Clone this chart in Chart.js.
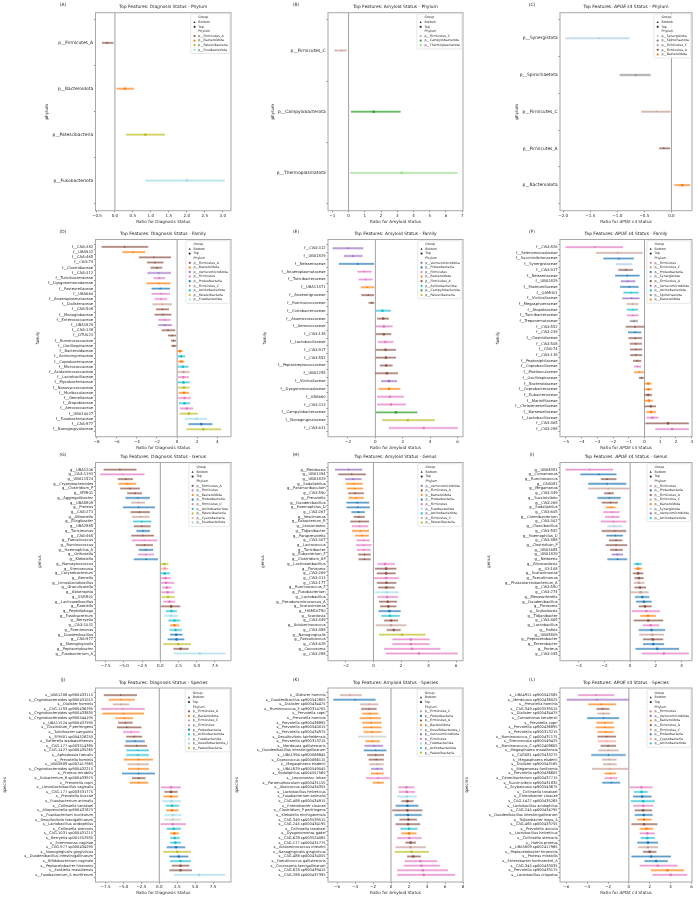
<!DOCTYPE html>
<html>
<head>
<meta charset="utf-8">
<script src="https://cdn.jsdelivr.net/npm/chart.js@4.4.0/dist/chart.umd.min.js"></script>
<style>
  body { margin: 0; background: #fff; }
  #fig { position: relative; width: 698px; height: 900px; overflow: hidden; background: #fff; }
  .panel { position: absolute; }
</style>
</head>
<body>
<div id="fig"></div>
<script>
// phylum code -> [legend name, colour]
const PHYLA = {
  FA: ['p__Firmicutes_A', '#8c564b'],
  Ba: ['p__Bacteroidota', '#ff7f0e'],
  Ve: ['p__Verrucomicrobiota', '#9467bd'],
  Fi: ['p__Firmicutes', '#e377c2'],
  Pr: ['p__Proteobacteria', '#1f77b4'],
  FC: ['p__Firmicutes_C', '#c49c94'],
  Ac: ['p__Actinobacteriota', '#17becf'],
  Pa: ['p__Patescibacteria', '#bcbd22'],
  Fu: ['p__Fusobacteriota', '#9edae5'],
  Ca: ['p__Campylobacterota', '#2ca02c'],
  Th: ['p__Thermoplasmatota', '#98df8a'],
  Sy: ['p__Synergistota', '#aec7e8'],
  Sp: ['p__Spirochaetota', '#7f7f7f'],
  Cy: ['p__Cyanobacteria', '#ff9896'],
  De: ['p__Desulfobacterota_I', '#c7c7c7']
};

// ---------- (A) Diagnosis - Phylum ----------
const aFeatures = ['p__Firmicutes_A', 'p__Bacteroidota', 'p__Patescibacteria', 'p__Fusobacteriota'];
const aRatio = [-0.22, 0.28, 0.85, 2.0];
const aLow = [-0.35, 0.05, 0.32, 0.85];
const aHigh = [-0.05, 0.52, 1.38, 3.05];
const aPhylum = ['FA', 'Ba', 'Pa', 'Fu'];
const aTicks = [-0.5, 0, 0.5, 1, 1.5, 2, 2.5, 3];

// ---------- (B) Amyloid - Phylum ----------
const bFeatures = ['p__Firmicutes_C', 'p__Campylobacterota', 'p__Thermoplasmatota'];
const bRatio = [-0.45, 1.55, 3.27];
const bLow = [-0.86, 0.16, 0.12];
const bHigh = [-0.14, 3.18, 6.69];
const bPhylum = ['FC', 'Ca', 'Th'];
const bTicks = [-1, 0, 1, 2, 3, 4, 5, 6, 7];

// ---------- (C) APOE e4 - Phylum ----------
const cFeatures = ['p__Synergistota', 'p__Spirochaetota', 'p__Firmicutes_C', 'p__Firmicutes_A', 'p__Bacteroidota'];
const cRatio = [-1.34, -0.66, -0.28, -0.14, 0.2];
const cLow = [-1.95, -0.95, -0.55, -0.22, 0.06];
const cHigh = [-0.78, -0.39, -0.02, -0.03, 0.34];
const cPhylum = ['Sy', 'Sp', 'FC', 'FA', 'Ba'];
const cTicks = [-2, -1.5, -1, -0.5, 0];

// ---------- (D) Diagnosis - Family ----------
const dFeatures = ['f__CAG-382', 'f__UBA932', 'f__CAG-465', 'f__CAG-74', 'f__Clostridiaceae', 'f__CAG-312',
  'f__Turicibacteraceae', 'f__Dysgonomonadaceae', 'f__Pasteurellaceae', 'f__UBA660', 'f__Anaeroplasmataceae',
  'f__Dialisteraceae', 'f__CAG-508', 'f__Monoglobaceae', 'f__Enterococcaceae', 'f__UBA1829', 'f__CAG-138',
  'f__DTU023', 'f__Ruminococcaceae', 'f__Oscillospiraceae', 'f__Bacteroidaceae', 'f__Actinomycetaceae',
  'f__Coprobacteraceae', 'f__Micrococcaceae', 'f__Acidaminococcaceae', 'f__Lactobacillaceae',
  'f__Mycobacteriaceae', 'f__Nanosyncoccaceae', 'f__Muribaculaceae', 'f__Gemellaceae', 'f__Atopobiaceae',
  'f__Aerococcaceae', 'f__UBA10027', 'f__Fusobacteriaceae', 'f__CAG-977', 'f__Nanogingivalaceae'];
const dRatio = [-5.2, -4.4, -2.3, -2.2, -2.0, -1.83, -1.77, -1.83, -1.67, -1.6, -1.6, -1.48, -1.45, -1.4, -1.25,
  -1.22, -0.9, -0.5, -0.35, -0.32, 0.29, 0.39, 0.42, 0.58, 0.64, 0.61, 0.64, 0.68, 0.68, 0.74, 0.74, 0.96, 1.16,
  1.93, 2.4, 2.6];
const dLow = [-7.46, -5.4, -3.76, -2.96, -2.6, -2.9, -2.3, -3.0, -2.5, -2.5, -2.2, -2.4, -2.06, -2.2, -1.83, -1.83,
  -1.5, -0.87, -0.58, -0.55, 0.06, 0.1, 0.13, 0.1, 0.06, 0.13, 0.1, 0.13, 0.19, 0.13, 0.22, 0.32, 0.29, 0.8, 1.16,
  0.96];
const dHigh = [-2.9, -3.2, -0.64, -1.4, -1.5, -0.64, -1.2, -0.68, -0.74, -0.77, -1.0, -0.55, -0.84, -0.6, -0.68,
  -0.55, -0.22, -0.13, -0.13, -0.1, 0.5, 0.77, 0.68, 1.1, 1.22, 1.13, 1.22, 1.22, 1.16, 1.35, 1.25, 1.54, 2.0, 2.93,
  3.47, 4.34];
const dPhylum = ['FA', 'Ba', 'FA', 'FA', 'FA', 'Ve', 'Fi', 'Ba', 'Pr', 'Fi', 'Fi', 'FC', 'FA', 'FA', 'Fi', 'Ve',
  'FA', 'FA', 'FA', 'FA', 'Ba', 'Ac', 'Ba', 'Ac', 'FC', 'Fi', 'Ac', 'Pa', 'Ba', 'Fi', 'Ac', 'Fi', 'Pa', 'Fu', 'Pr',
  'Pa'];
const dTicks = [-8, -6, -4, -2, 0, 2, 4];

// ---------- (E) Amyloid - Family ----------
const eFeatures = ['f__CAG-312', 'f__UBA1829', 'f__Neisseriaceae', 'f__Anaeroplasmataceae', 'f__Turicibacteraceae',
  'f__UBA11471', 'f__Anaerotignaceae', 'f__Ruminococcaceae', 'f__Coriobacteriaceae', 'f__Anaerovoracaceae',
  'f__Aerococcaceae', 'f__CAG-138', 'f__Lactobacillaceae', 'f__CAG-917', 'f__CAG-552', 'f__Peptostreptococcaceae',
  'f__UBA1255', 'f__Victivallaceae', 'f__Dysgonomonadaceae', 'f__UBA660', 'f__CAG-313', 'f__Campylobacteraceae',
  'f__Nanogingivalaceae', 'f__CAG-631'];
const eRatio = [-2.0, -1.65, -1.28, -0.84, -0.72, -0.6, -0.52, -0.25, 0.52, 0.57, 0.62, 0.62, 0.72, 0.74, 0.77,
  0.79, 0.84, 0.99, 1.01, 1.06, 1.14, 1.5, 2.37, 3.53];
const eLow = [-3.1, -2.27, -2.64, -1.28, -1.2, -1.04, -1.0, -0.47, 0.07, 0.15, 0.02, 0.07, 0.2, 0.05, 0.05, 0.35,
  0.02, 0.44, 0.25, 0.15, 0.15, 0.07, 0.52, 1.01];
const eHigh = [-0.9, -0.96, -0.12, -0.3, -0.22, -0.1, -0.12, -0.1, 1.1, 0.96, 1.23, 1.13, 1.3, 1.48, 1.48, 1.23,
  1.63, 1.56, 1.8, 2.05, 2.2, 3.04, 4.32, 6.0];
const ePhylum = ['Ve', 'Ve', 'Pr', 'Fi', 'Fi', 'Ba', 'FA', 'FA', 'Ac', 'FA', 'Fi', 'FA', 'Fi', 'FA', 'FA', 'FA',
  'FA', 'Ve', 'Ba', 'Fi', 'Fi', 'Ca', 'Pa', 'Fi'];
const eTicks = [-2, 0, 2, 4, 6];

// ---------- (F) APOE e4 - Family ----------
const fFeatures = ['f__CAG-826', 'f__Selenomonadaceae', 'f__Succinivibrionaceae', 'f__Synergistaceae', 'f__CAG-917',
  'f__Neisseriaceae', 'f__UBA1829', 'f__Pasteurellaceae', 'f__QAMH01', 'f__Victivallaceae', 'f__Megasphaeraceae',
  'f__Atopobiaceae', 'f__Turicibacteraceae', 'f__Treponemataceae', 'f__CAG-552', 'f__CAG-239', 'f__Clostridiaceae',
  'f__CAG-508', 'f__CAG-74', 'f__CAG-138', 'f__Peptoniphilaceae', 'f__Coprobacillaceae', 'f__Muribaculaceae',
  'f__Oscillospiraceae', 'f__Bacteroidaceae', 'f__Coprobacteraceae', 'f__Eubacteriaceae', 'f__Marinifilaceae',
  'f__Christensenellaceae', 'f__Barnesiellaceae', 'f__Lactobacillaceae', 'f__CAG-465', 'f__CAG-288'];
const fRatio = [-3.17, -1.7, -1.64, -1.28, -1.18, -1.11, -1.07, -0.97, -0.86, -0.82, -0.76, -0.74, -0.74, -0.67,
  -0.61, -0.61, -0.59, -0.57, -0.55, -0.55, -0.48, -0.44, -0.34, -0.19, 0.23, 0.25, 0.23, 0.27, 0.4, 0.42, 0.5, 1.49,
  1.76];
const fLow = [-5.0, -3.07, -2.6, -1.8, -1.64, -1.85, -1.49, -1.53, -1.32, -1.39, -1.13, -1.11, -1.11, -0.92, -1.18,
  -1.03, -1.0, -0.92, -0.9, -0.9, -0.71, -0.65, -0.65, -0.34, 0.04, 0.04, 0.02, 0.02, 0.0, 0.13, 0.15, 0.08, 0.71];
const fHigh = [-1.39, -0.13, -0.71, -0.8, -0.76, -0.34, -0.61, -0.4, -0.4, -0.34, -0.4, -0.44, -0.4, -0.44, -0.02,
  -0.23, -0.17, -0.19, -0.17, -0.17, -0.23, -0.23, -0.06, -0.06, 0.42, 0.46, 0.46, 0.5, 0.71, 0.71, 0.86, 2.8, 2.8];
const fPhylum = ['Fi', 'FC', 'Pr', 'Sy', 'FA', 'Pr', 'Ve', 'Pr', 'Ac', 'Ve', 'FC', 'Ac', 'Fi', 'Sp', 'FA', 'Pr',
  'FA', 'FA', 'FA', 'FA', 'FA', 'Fi', 'Ba', 'FA', 'Ba', 'Ba', 'FA', 'Ba', 'FA', 'Ba', 'Fi', 'FA', 'Fi'];
const fTicks = [-5, -4, -3, -2, -1, 0, 1, 2, 3];

// ---------- (G) Diagnosis - Genus ----------
const gFeatures = ['g__UBA1206', 'g__CAG-1193', 'g__UBA11524', 'g__Cryptobacteroides', 'g__Clostridium_P',
  'g__SFMI01', 'g__Aggregatibacter', 'g__UBA5809', 'g__Proteus', 'g__CAG-273', 'g__Allisonella', 'g__Ellagibacter',
  'g__UBA2885', 'g__Turicimonas', 'g__CAG-465', 'g__Faecalicoccus', 'g__Ruminococcus', 'g__Haemophilus_A',
  'g__Orthosella', 'g__Klebsiella', 'g__Nanosynococcus', 'g__Stercorousia', 'g__Corynebacterium', 'g__Gemella',
  'g__Limosilactobacillus', 'g__Granulicatella', 'g__Abiotrophia', 'g__SDRR01', 'g__Lacticaseibacillus',
  'g__Ezakiella', 'g__Peptidiphaga', 'g__Fusobacterium', 'g__Berryella', 'g__CAG-1031', 'g__Formimonas',
  'g__Duodenibacillus', 'g__CAG-977', 'g__Nanogingivalis', 'g__Peptacetobacter', 'g__Fusobacterium_A'];
const gRatio = [-5.55, -5.19, -4.72, -4.54, -4.17, -3.47, -3.1, -3.0, -3.0, -2.87, -2.69, -2.55, -2.55, -2.4, -2.4,
  -2.22, -2.18, -1.99, -1.99, -1.94, 0.56, 0.6, 0.6, 0.69, 0.79, 0.88, 1.0, 1.06, 1.25, 1.48, 1.53, 1.48, 1.94,
  1.94, 2.08, 2.18, 2.22, 2.45, 2.78, 5.42];
const gLow = [-7.73, -8.2, -5.8, -5.7, -5.46, -4.5, -4.72, -3.94, -5.09, -4.03, -3.84, -3.7, -3.6, -3.24, -3.94,
  -3.84, -3.33, -2.92, -3.0, -3.6, 0.09, 0.14, 0.09, 0.14, 0.14, 0.32, 0.19, 0.23, 0.46, 0.14, 0.79, 0.6, 1.16,
  1.39, 1.3, 1.39, 1.06, 0.46, 1.85, 1.94];
const gHigh = [-3.33, -2.22, -3.8, -3.38, -2.87, -2.55, -1.48, -2.18, -0.79, -1.48, -1.53, -1.3, -1.39, -1.48,
  -0.93, -0.46, -1.06, -1.02, -0.93, -0.37, 1.06, 1.0, 1.3, 1.39, 1.85, 1.48, 1.85, 1.94, 1.99, 2.69, 2.22, 2.4,
  2.69, 2.55, 2.92, 3.0, 3.24, 4.17, 3.84, 8.89];
const gPhylum = ['FA', 'Fi', 'FA', 'Ba', 'FA', 'FA', 'Pr', 'FC', 'Pr', 'FA', 'FC', 'Ac', 'FA', 'Pr', 'FA', 'Fi',
  'FA', 'Pr', 'Fi', 'Pr', 'Pa', 'Cy', 'Ac', 'Fi', 'Fi', 'Fi', 'Fi', 'Pa', 'Fi', 'FA', 'Ac', 'Fu', 'Ac', 'Ba', 'Ac',
  'Pr', 'Pr', 'Pa', 'FA', 'Fu'];
const gTicks = [-7.5, -5, -2.5, 0, 2.5, 5, 7.5];

// ---------- (H) Amyloid - Genus ----------
const hFeatures = ['g__Merdousia', 'g__UBA1394', 'g__UBA1829', 'g__Sodaliphilus', 'g__Paramuribaculum', 'g__CAG-590',
  'g__Prevotella', 'g__Duodenibacillus', 'g__Haemophilus_D', 'g__CAG-267', 'g__Vescimonas', 'g__Eubacterium_R',
  'g__Leuconostoc', 'g__Tidjanibacter', 'g__Paraprevotella', 'g__CAG-307', 'g__Lactococcus', 'g__Turicibacter',
  'g__Eubacterium_F', 'g__Clostridium_AP', 'g__Lacticaseibacillus', 'g__Fimisoma', 'g__CAG-269', 'g__CAG-313',
  'g__CAG-177', 'g__Ruminococcus_F', 'g__Fusobacterium', 'g__Lactobacillus', 'g__Pseudoruminococcus_A',
  'g__Scatavimonas', 'g__HGM16780', 'g__Scardovia', 'g__CAG-449', 'g__Acidaminococcus', 'g__CAG-488',
  'g__Nanogingivalis', 'g__Faecalicoccus', 'g__CAG-628', 'g__Coccosoma', 'g__CAG-288'];
const hRatio = [-1.8, -1.57, -1.49, -1.42, -1.37, -1.33, -1.25, -1.18, -1.13, -1.08, -1.06, -1.01, -1.01, -0.94,
  -0.84, -0.72, -0.7, -0.7, -0.65, -0.65, 0.84, 0.92, 0.92, 0.92, 0.94, 0.94, 0.96, 0.99, 1.04, 1.08, 1.16, 1.2,
  1.28, 1.28, 1.47, 2.07, 2.72, 2.72, 2.8, 3.3];
const hLow = [-2.77, -2.53, -2.02, -1.98, -1.9, -1.81, -1.78, -1.93, -1.93, -1.57, -1.42, -1.66, -1.54, -1.54, -1.3,
  -1.2, -1.25, -1.18, -1.08, -1.06, 0.31, 0.14, 0.27, 0.07, 0.27, 0.36, 0.14, 0.31, 0.43, 0.51, 0.39, 0.6, 0.8,
  0.19, 0.99, 0.43, 1.4, 1.4, 0.8, 0.92];
const hHigh = [-0.84, -0.58, -0.89, -0.82, -0.77, -0.72, -0.72, -0.34, -0.29, -0.65, -0.65, -0.34, -0.41, -0.34,
  -0.36, -0.29, -0.17, -0.22, -0.22, -0.22, 1.52, 1.64, 1.59, 1.81, 1.64, 1.52, 1.81, 1.76, 1.69, 1.64, 1.95, 1.88,
  1.76, 2.36, 1.95, 3.76, 4.05, 4.05, 4.84, 6.1];
const hPhylum = ['Ve', 'FA', 'Ve', 'Ba', 'Ba', 'FA', 'Ba', 'Pr', 'Pr', 'Pr', 'FA', 'FA', 'Fi', 'Ba', 'Ba', 'Fi',
  'Fi', 'Fi', 'FA', 'FA', 'Fi', 'FA', 'FA', 'Fi', 'FA', 'FA', 'Fu', 'Fi', 'FA', 'FA', 'Pr', 'Ac', 'FA', 'FC', 'FA',
  'Pa', 'Fi', 'Fi', 'Fi', 'Fi'];
const hTicks = [-2, 0, 2, 4, 6];

// ---------- (I) APOE e4 - Genus ----------
const iFeatures = ['g__UBA4951', 'g__Comamonas', 'g__Ruminococcus', 'g__CAG081', 'g__Megamonas', 'g__CAG-349',
  'g__Succinivibrio', 'g__CAG-269', 'g__Sodaliphilus', 'g__CAG-605', 'g__Catenibacterium', 'g__CAG-302',
  'g__Cloacibacillus', 'g__CAG-552', 'g__Haemophilus_D', 'g__CAG-488', 'g__Clostridium_P', 'g__UBA1685',
  'g__UBA1829', 'g__Neisseria', 'g__Alloscardovia', 'g__43-108', 'g__Scatavimonas', 'g__Faecalimonas',
  'g__Phascolarctobacterium_A', 'g__CAG-590', 'g__CAG-274', 'g__Mesosutterella', 'g__Duodenibacillus',
  'g__Fimisoma', 'g__Scybalousia', 'g__Tidjanibacter', 'g__CAG-465', 'g__Lactobacillus', 'g__Hafnia', 'g__UBA5809',
  'g__Peptacetobacter', 'g__Enterobacter', 'g__Proteus', 'g__CAG-345'];
const iRatio = [-3.16, -2.44, -1.8, -1.8, -1.7, -1.62, -1.62, -1.54, -1.49, -1.41, -1.36, -1.31, -1.23, -1.21,
  -1.16, -1.1, -1.1, -1.1, -1.03, -0.98, 0.57, 0.62, 0.62, 0.69, 0.69, 0.77, 0.82, 0.95, 1.08, 1.16, 1.26, 1.39,
  1.41, 1.59, 1.67, 1.72, 1.77, 1.8, 2.11, 2.62];
const iLow = [-5.01, -3.86, -2.26, -3.24, -3.24, -2.0, -2.52, -2.19, -1.88, -2.06, -1.93, -2.26, -1.75, -2.19,
  -1.83, -1.62, -1.88, -1.54, -1.41, -1.75, 0.31, 0.36, 0.23, 0.36, 0.31, 0.36, 0.05, 0.39, 0.49, 0.69, 0.18, 0.82,
  0.31, 1.0, 0.69, 0.74, 1.03, 1.03, 0.44, 0.95];
const iHigh = [-1.36, -1.1, -1.1, -0.33, -0.08, -1.29, -0.77, -0.98, -1.16, -0.85, -0.85, -0.33, -0.64, -0.33,
  -0.59, -0.64, -0.26, -0.59, -0.59, -0.26, 0.9, 0.9, 1.0, 1.03, 1.08, 1.21, 1.41, 1.47, 1.65, 1.65, 2.29, 1.98,
  2.55, 2.24, 2.7, 2.62, 2.55, 2.62, 3.78, 4.55];
const iPhylum = ['Fi', 'Pr', 'FA', 'Pr', 'FC', 'FA', 'Pr', 'FA', 'Ba', 'Fi', 'Fi', 'Fi', 'Sy', 'FA', 'Pr', 'FA',
  'FA', 'FA', 'Ve', 'Pr', 'Ac', 'Ba', 'FA', 'FA', 'FC', 'FA', 'FC', 'Pr', 'Pr', 'FA', 'Fi', 'Ba', 'FA', 'Fi', 'Pr',
  'FC', 'FA', 'Pr', 'Pr', 'Fi'];
const iTicks = [-4, -2, 0, 2, 4];

// ---------- (J) Diagnosis - Species ----------
const jFeatures = ['s__UBA1206 sp900433115', 's__Cryptobacteroides sp900431015', 's__Dialister hominis',
  's__CAG-1193 sp900436295', 's__Cryptobacteroides sp900433835', 's__Cryptobacteroides sp900544195',
  's__UBA11524 sp900437595', 's__Clostridium_P perfringens', 's__Turicibacter sanguinis', 's__SFMI01 sp004526255',
  's__Sutterella wadsworthensis', 's__CAG-177 sp003514385', 's__CAG-1427 sp000435265', 's__Aphodousia faecalis',
  's__Prevotella hominis', 's__UBA5809 sp002417965', 's__Cryptobacteroides sp900432215', 's__Proteus mirabilis',
  's__Eubacterium_R sp000433975', 's__Prevotella copri', 's__Limosilactobacillus vaginalis',
  's__CAG-177 sp003531775', 's__Prevotella buccae', 's__Fusobacterium animalis', 's__Collinsella tanakaei',
  's__Alloprevotella sp900437675', 's__Fusobacterium nucleatum', 's__Desulfovibrio faecigallinarum',
  's__Lactobacillus acidophilus', 's__Collinsella stercoris', 's__CAG-1031 sp000431215', 's__Berryella sp001552935',
  's__Formimonas vaginae', 's__CAG-977 sp000434295', 's__Nanogingivalis gingivitcus',
  's__Duodenibacillus intestinigallinarum', 's__Bifidobacterium vaginale', 's__Peptacetobacter hiranonis',
  's__Ezakiella massiliensis', 's__Fusobacterium_A mortiferum'];
const jRatio = [-5.4, -5.35, -5.35, -5.1, -5.0, -4.9, -4.74, -4.55, -3.94, -3.5, -3.38, -3.15, -3.0, -3.0, -2.9,
  -2.9, -2.9, -2.9, -2.86, -2.86, 1.64, 1.64, 1.64, 1.69, 1.78, 1.78, 1.88, 1.88, 1.88, 2.0, 2.1, 2.16, 2.25, 2.35,
  2.5, 2.72, 2.96, 2.96, 2.96, 5.54];
const jLow = [-7.7, -7.0, -6.43, -8.07, -7.9, -6.06, -5.7, -5.87, -5.0, -4.55, -4.65, -4.8, -4.55, -4.55, -4.9,
  -4.4, -4.3, -5.16, -3.76, -4.08, 0.28, 0.75, 0.61, 0.47, 0.94, 0.99, 0.75, 0.75, 0.23, 1.08, 1.55, 1.55, 1.55,
  1.08, 0.61, 1.45, 1.55, 1.78, 1.45, 2.1];
const jHigh = [-3.15, -3.47, -4.23, -2.07, -2.2, -3.7, -3.76, -2.54, -2.8, -2.44, -2.07, -1.74, -1.5, -1.5, -0.94,
  -1.5, -1.5, -0.66, -1.97, -1.6, 2.96, 2.49, 2.58, 2.96, 2.72, 2.63, 3.05, 2.96, 3.66, 2.96, 2.72, 2.82, 2.96,
  3.57, 4.37, 4.0, 4.37, 4.13, 4.5, 9.15];
const jPhylum = ['FA', 'Ba', 'FC', 'Fi', 'Ba', 'Ba', 'FA', 'FA', 'Fi', 'FA', 'Pr', 'FA', 'Ac', 'Ac', 'Ba', 'FC',
  'Ba', 'Pr', 'FA', 'Ba', 'Fi', 'FA', 'Ba', 'Fu', 'Ac', 'Ba', 'Fu', 'De', 'Fi', 'Ac', 'Ba', 'Ac', 'Ac', 'Pr', 'Pa',
  'Pr', 'Ac', 'FA', 'FA', 'Fu'];
const jTicks = [-7.5, -5, -2.5, 0, 2.5, 5, 7.5];

// ---------- (K) Amyloid - Species ----------
const kFeatures = ['s__Dialister hominis', 's__Duodenibacillus sp900542805', 's__Dialister sp000434475',
  's__Ruminococcus_E sp900314705', 's__Prevotella copri', 's__Prevotella hominis', 's__Prevotella sp900436895',
  's__Prevotella sp900540015', 's__Prevotella sp900434975', 's__Desulfovibrio fairfieldensis',
  's__Prevotella sp900313215', 's__Merdousia gallistercoris', 's__Duodenibacillus intestinigallinarum',
  's__UBA1394 sp900068845', 's__Coprococcus sp000066115', 's__Megasphaera elsdenii', 's__UBA1829 sp900549045',
  's__Sodaliphilus sp004557565', 's__Leuconostoc inhae', 's__Paramuribaculum sp000431155',
  's__Absicoccus sp000434355', 's__Lactobacillus helveticus', 's__Fusobacterium animalis',
  's__CAG-488 sp000434915', 's__Enterobacter cloacae', 's__Clostridium_P perfringens', 's__Klebsiella michiganensis',
  's__CAG-349 sp003539515', 's__CAG-245 sp000434195', 's__Collinsella tanakaei', 's__Dysgonomonas gadei',
  's__CAG-628 sp003524085', 's__CAG-177 sp000431775', 's__Acidaminococcus intestini',
  's__Nanogingivalis gingivitcus', 's__CAG-488 sp000434055', 's__Faecalicoccus gallistercoris',
  's__Coccosoma faecigallinarum', 's__CAG-628 sp900439415', 's__CAG-288 sp000437395'];
const kRatio = [-4.55, -4.0, -2.44, -2.44, -2.36, -2.29, -2.18, -2.18, -2.1, -2.07, -2.07, -1.89, -1.7, -1.7, -1.64,
  -1.56, -1.53, -1.53, -1.45, -1.38, 1.71, 1.75, 1.75, 1.82, 1.82, 1.82, 1.89, 1.93, 1.89, 2.0, 2.0, 2.04, 2.18,
  2.18, 2.29, 2.47, 3.27, 3.38, 3.53, 3.64];
const kLow = [-5.64, -6.36, -3.38, -3.27, -3.16, -3.45, -3.16, -3.09, -3.0, -3.64, -2.8, -2.9, -2.98, -2.62, -2.44,
  -2.36, -2.18, -2.18, -2.73, -2.0, 0.84, 0.91, 0.73, 1.2, 0.55, 0.18, 0.44, 0.98, 0.55, 1.09, 1.2, 0.73, 1.64,
  0.55, 0.44, 1.82, 1.56, 1.45, 0.73, 0.73];
const kHigh = [-3.27, -1.75, -1.45, -1.64, -1.45, -1.16, -1.09, -1.09, -1.09, -0.55, -1.27, -0.91, -0.55, -0.8,
  -0.84, -0.84, -0.91, -0.84, -0.18, -0.84, 2.55, 2.65, 2.84, 2.47, 3.0, 3.45, 3.38, 2.84, 3.2, 2.91, 2.8, 3.38,
  2.73, 3.82, 4.18, 3.27, 5.09, 5.38, 6.29, 7.09];
const kPhylum = ['FC', 'Pr', 'FC', 'FA', 'Ba', 'Ba', 'Ba', 'Ba', 'Ba', 'De', 'Ba', 'Ve', 'Pr', 'FA', 'FA', 'FC',
  'Ve', 'Ba', 'Fi', 'Ba', 'Fi', 'Fi', 'Fu', 'FA', 'Pr', 'FA', 'Pr', 'FA', 'FA', 'Ac', 'Ba', 'Fi', 'FA', 'FC', 'Pa',
  'FA', 'Fi', 'Fi', 'Fi', 'Fi'];
const kTicks = [-6, -4, -2, 0, 2, 4, 6, 8];

// ---------- (L) APOE e4 - Species ----------
const lFeatures = ['s__UBA4951 sp900542585', 's__Merdousia sp900436025', 's__Prevotella hominis',
  's__CAG-349 sp003539515', 's__Dialister sp000434475', 's__Comamonas kerstersii', 's__Prevotella copri',
  's__Prevotella sp900436895', 's__Prevotella sp900313215', 's__Ruminococcus_C sp000437175',
  's__Stercorousia sp900549425', 's__Ruminococcus_C sp902408605', 's__Megasphaera massiliensis',
  's__CAG081 sp003433275', 's__Megasphaera elsdenii', 's__Dialister sp900543165', 's__Megamonas funiformis',
  's__Prevotella sp900436605', 's__Catenibacterium sp000437715', 's__Succinivibrio sp900431835',
  's__Scybalousia sp900543675', 's__Collinsella tanakaei', 's__Enterobacter cloacae', 's__CAG-1427 sp000435265',
  's__Lactobacillus acidophilus', 's__CAG-245 sp000434795', 's__Duodenibacillus intestinigallinarum',
  's__Tidjanibacter inops_A', 's__CAG-465 sp000433755', 's__Prevotella avicola', 's__Lactobacillus helveticus',
  's__Collinsella stercoris', 's__Hafnia proteus', 's__UBA5809 sp002417965', 's__Peptacetobacter hiranonis',
  's__Proteus mirabilis', 's__Enterobacter hormaechei_A', 's__CAG-345 sp000433035', 's__Prevotella sp900433175',
  's__Lactobacillus crispatus'];
const lRatio = [-3.14, -3.07, -2.67, -2.52, -2.45, -2.42, -2.3, -2.3, -2.2, -2.14, -2.11, -1.99, -1.96, -1.96,
  -1.89, -1.83, -1.83, -1.8, -1.74, -1.68, 1.21, 1.21, 1.27, 1.37, 1.37, 1.37, 1.43, 1.46, 1.46, 1.68, 1.77, 1.77,
  1.83, 1.83, 1.99, 2.14, 2.61, 2.76, 3.7, 4.0];
const lLow = [-4.84, -5.93, -3.85, -3.07, -2.98, -3.98, -3.07, -3.14, -2.98, -2.98, -2.92, -2.67, -2.89, -3.57,
  -2.52, -2.45, -3.51, -2.3, -2.3, -2.52, 0.12, 0.53, 0.43, 0.22, 0.43, 0.59, 0.59, 0.84, 0.28, 1.06, 1.06, 1.15,
  0.84, 0.9, 1.37, 0.28, 1.52, 1.06, 2.14, 2.3];
const lHigh = [-1.43, -0.03, -1.27, -1.9, -1.83, -0.96, -1.52, -1.43, -1.49, -1.27, -1.27, -1.27, -1.02, -0.34,
  -1.21, -1.21, -0.09, -1.27, -1.12, -0.87, 2.24, 1.77, 2.14, 2.45, 2.3, 2.2, 2.24, 2.14, 2.7, 2.3, 2.45, 2.45, 2.76,
  2.76, 2.61, 4.0, 3.7, 4.63, 5.25, 5.56];
const lPhylum = ['Fi', 'Ve', 'Ba', 'FA', 'FC', 'Pr', 'Ba', 'Ba', 'Ba', 'FA', 'Cy', 'FA', 'FC', 'Pr', 'FC', 'FC',
  'FC', 'Ba', 'Fi', 'Pr', 'Fi', 'Ac', 'Pr', 'Ac', 'Fi', 'FA', 'Pr', 'Ba', 'FA', 'Ba', 'Fi', 'Ac', 'Pr', 'FC', 'FA',
  'Pr', 'Pr', 'Fi', 'Ba', 'Fi'];
const lTicks = [-6, -4, -2, 0, 2, 4, 6];

// ---------- layout ----------
const FONT = '"DejaVu Sans", sans-serif';
const INK = '#262626';
const colLeft = [0, 233, 464], colWidth = [236, 234, 234];
const rowTop = [0, 225, 450, 670], rowHeight = [225, 225, 220, 230];
const plotX = [[95.5, 231], [328, 463], [560, 692]];
const plotY = [[12.7, 210.7], [239.5, 436.7], [462.5, 660.7], [688, 882]];
const labelX = [63, 296, 532];

const DIAG = 'Diagnosis Status', AMY = 'Amyloid Status';
const apoe = (lvl) => [['Top Features: ', 0], ['APOE', 1], [' \u03b54 Status - ' + lvl, 0]];
const apoeX = [['Ratio for ', 0], ['APOE', 1], [' \u03b54 Status', 0]];
const plain = (s) => [[s, 0]];

const panels = [
  { key: 'A', col: 0, row: 0, title: plain('Top Features: ' + DIAG + ' - Phylum'), xTitle: plain('Ratio for ' + DIAG), yTitle: 'phylum', yTitleX: 47,
    features: aFeatures, ratio: aRatio, low: aLow, high: aHigh, phylum: aPhylum, ticks: aTicks, range: [-0.54, 3.23], dec: 1, tick: 4.4 },
  { key: 'B', col: 1, row: 0, title: plain('Top Features: ' + AMY + ' - Phylum'), xTitle: plain('Ratio for ' + AMY), yTitle: 'phylum', yTitleX: 273,
    features: bFeatures, ratio: bRatio, low: bLow, high: bHigh, phylum: bPhylum, ticks: bTicks, range: [-1.27, 7.05], dec: 0, tick: 4.4 },
  { key: 'C', col: 2, row: 0, title: apoe('Phylum'), xTitle: apoeX, yTitle: 'phylum', yTitleX: 517,
    features: cFeatures, ratio: cRatio, low: cLow, high: cHigh, phylum: cPhylum, ticks: cTicks, range: [-2.06, 0.38], dec: 1, tick: 4.4 },
  { key: 'D', col: 0, row: 1, title: plain('Top Features: ' + DIAG + ' - Family'), xTitle: plain('Ratio for ' + DIAG), yTitle: 'family', yTitleX: 38,
    features: dFeatures, ratio: dRatio, low: dLow, high: dHigh, phylum: dPhylum, ticks: dTicks, range: [-8.1, 5.35], dec: 0, tick: 3.7 },
  { key: 'E', col: 1, row: 1, title: plain('Top Features: ' + AMY + ' - Family'), xTitle: plain('Ratio for ' + AMY), yTitle: 'family', yTitleX: 265,
    features: eFeatures, ratio: eRatio, low: eLow, high: eHigh, phylum: ePhylum, ticks: eTicks, range: [-3.46, 6.4], dec: 0, tick: 3.7 },
  { key: 'F', col: 2, row: 1, title: apoe('Family'), xTitle: apoeX, yTitle: 'family', yTitleX: 498,
    features: fFeatures, ratio: fRatio, low: fLow, high: fHigh, phylum: fPhylum, ticks: fTicks, range: [-5.38, 3.02], dec: 0, tick: 3.7 },
  { key: 'G', col: 0, row: 2, title: plain('Top Features: ' + DIAG + ' - Genus'), xTitle: plain('Ratio for ' + DIAG), yTitle: 'genus', yTitleX: 40,
    features: gFeatures, ratio: gRatio, low: gLow, high: gHigh, phylum: gPhylum, ticks: gTicks, range: [-8.9, 9.7], dec: 1, tick: 3.7 },
  { key: 'H', col: 1, row: 2, title: plain('Top Features: ' + AMY + ' - Genus'), xTitle: plain('Ratio for ' + AMY), yTitle: 'genus', yTitleX: 263,
    features: hFeatures, ratio: hRatio, low: hLow, high: hHigh, phylum: hPhylum, ticks: hTicks, range: [-3.3, 6.5], dec: 0, tick: 3.7 },
  { key: 'I', col: 2, row: 2, title: apoe('Genus'), xTitle: apoeX, yTitle: 'genus', yTitleX: 489,
    features: iFeatures, ratio: iRatio, low: iLow, high: iHigh, phylum: iPhylum, ticks: iTicks, range: [-5.47, 4.82], dec: 0, tick: 3.7 },
  { key: 'J', col: 0, row: 3, title: plain('Top Features: ' + DIAG + ' - Species'), xTitle: plain('Ratio for ' + DIAG), yTitle: 'species', yTitleX: 5,
    features: jFeatures, ratio: jRatio, low: jLow, high: jHigh, phylum: jPhylum, ticks: jTicks, range: [-8.9, 10.0], dec: 1, tick: 3.6 },
  { key: 'K', col: 1, row: 3, title: plain('Top Features: ' + AMY + ' - Species'), xTitle: plain('Ratio for ' + AMY), yTitle: 'species', yTitleX: 237,
    features: kFeatures, ratio: kRatio, low: kLow, high: kHigh, phylum: kPhylum, ticks: kTicks, range: [-7.0, 8.0], dec: 0, tick: 3.6 },
  { key: 'L', col: 2, row: 3, title: apoe('Species'), xTitle: apoeX, yTitle: 'species', yTitleX: 467,
    features: lFeatures, ratio: lRatio, low: lLow, high: lHigh, phylum: lPhylum, ticks: lTicks, range: [-6.6, 6.05], dec: 0, tick: 3.6 }
];

function rgba(hex, a) {
  const n = parseInt(hex.slice(1), 16);
  return `rgba(${n >> 16},${(n >> 8) & 255},${n & 255},${a})`;
}
function fmtTick(v, dec) {
  return (v < 0 ? '\u2212' : '') + Math.abs(v).toFixed(dec);
}
function drawRich(ctx, parts, cx, cy, size) {
  const fonts = parts.map(pt => (pt[1] ? 'italic ' : '') + size + 'px ' + FONT);
  let total = 0;
  const widths = parts.map((pt, i) => { ctx.font = fonts[i]; const w = ctx.measureText(pt[0]).width; total += w; return w; });
  let x = cx - total / 2;
  ctx.textAlign = 'left';
  parts.forEach((pt, i) => { ctx.font = fonts[i]; ctx.fillText(pt[0], x, cy); x += widths[i]; });
}
function marker(ctx, kind, x, y, r) {
  ctx.beginPath();
  if (kind === 'tri') {
    ctx.moveTo(x, y - r * 1.1); ctx.lineTo(x + r, y + r * 0.7); ctx.lineTo(x - r, y + r * 0.7); ctx.closePath();
  } else {
    ctx.arc(x, y, r, 0, Math.PI * 2);
  }
  ctx.fill();
}
function drawLegend(ctx, a, phyla) {
  const entries = [['Group', null], ['Bottom', 'tri'], ['Top', 'dot'], ['Phylum', null]]
    .concat(phyla.map(c => [PHYLA[c][0], c]));
  const fs = 3.2, lh = 4.6, pad = 1.4, mk = 6.2;
  ctx.font = fs + 'px ' + FONT;
  const tw = Math.max(...entries.map(e => ctx.measureText(e[0]).width));
  const w = pad + mk + tw + pad + 0.5, h = entries.length * lh + pad * 2;
  const x0 = a.right - w - 1.2, y0 = a.top + 1.2;
  ctx.fillStyle = 'rgba(255,255,255,0.85)';
  ctx.strokeStyle = '#d6d6d6';
  ctx.lineWidth = 0.6;
  ctx.beginPath();
  ctx.roundRect(x0, y0, w, h, 1);
  ctx.fill(); ctx.stroke();
  ctx.textBaseline = 'middle';
  ctx.textAlign = 'left';
  entries.forEach((e, i) => {
    const y = y0 + pad + lh * (i + 0.5);
    if (e[1] === 'tri' || e[1] === 'dot') {
      ctx.fillStyle = '#333';
      marker(ctx, e[1], x0 + pad + 2.4, y, 1.1);
    } else if (e[1]) {
      ctx.fillStyle = PHYLA[e[1]][1];
      marker(ctx, 'dot', x0 + pad + 2.4, y, 1.1);
    }
    ctx.fillStyle = INK;
    ctx.font = fs + 'px ' + FONT;
    ctx.fillText(e[0], x0 + pad + mk, y);
  });
}

const decor = {
  id: 'decor',
  beforeDatasetsDraw(chart) {
    const { ctx, chartArea: a, scales: { x } } = chart;
    const zx = x.getPixelForValue(0);
    ctx.save();
    ctx.strokeStyle = '#a0a0a0';
    ctx.lineWidth = 1;
    ctx.beginPath(); ctx.moveTo(zx, a.top); ctx.lineTo(zx, a.bottom); ctx.stroke();
    ctx.restore();
  },
  afterDraw(chart, args, opts) {
    const p = opts.panel;
    const { ctx, chartArea: a } = chart;
    const left = colLeft[p.col];
    ctx.save();
    ctx.strokeStyle = '#a8a8a8';
    ctx.lineWidth = 1;
    ctx.strokeRect(a.left, a.top, a.right - a.left, a.bottom - a.top);

    ctx.fillStyle = INK;
    ctx.textBaseline = 'middle';
    drawRich(ctx, p.title, (a.left + a.right) / 2, a.top - 5.6, 4.4);
    drawRich(ctx, p.xTitle, (a.left + a.right) / 2, a.bottom + 11.2, 4.2);

    ctx.font = '4.4px ' + FONT;
    ctx.textAlign = 'center';
    ctx.fillText('(' + p.key + ')', labelX[p.col] - left, a.top - 7.8);

    ctx.save();
    ctx.translate(p.yTitleX - left, (a.top + a.bottom) / 2);
    ctx.rotate(-Math.PI / 2);
    ctx.font = '4.2px ' + FONT;
    ctx.textAlign = 'center';
    ctx.fillText(p.yTitle, 0, 0);
    ctx.restore();

    const order = [];
    p.phylum.forEach(c => { if (!order.includes(c)) order.push(c); });
    drawLegend(ctx, a, order);
    ctx.restore();
  }
};

Chart.defaults.font.family = FONT;
Chart.defaults.color = INK;

const fig = document.getElementById('fig');

panels.forEach(p => {
  const left = colLeft[p.col], top = rowTop[p.row], w = colWidth[p.col], h = rowHeight[p.row];
  const [px0, px1] = plotX[p.col];
  const [py0, py1] = plotY[p.row];
  const wrap = document.createElement('div');
  wrap.className = 'panel';
  wrap.style.left = left + 'px';
  wrap.style.top = top + 'px';
  wrap.style.width = w + 'px';
  wrap.style.height = h + 'px';
  const canvas = document.createElement('canvas');
  canvas.width = w; canvas.height = h;
  canvas.style.width = w + 'px'; canvas.style.height = h + 'px';
  wrap.appendChild(canvas);
  fig.appendChild(wrap);

  const n = p.features.length;
  const marginPx = n <= 5 ? 7.2 : 4.8;
  const m = marginPx * (n - 1) / (py1 - py0 - 2 * marginPx);
  const colors = p.phylum.map(c => PHYLA[c][1]);
  const spans = p.low.map((v, i) => ({ y: i, x: [v, p.high[i]] }));
  const tickGrid = { display: true, drawOnChartArea: false, drawTicks: true, tickLength: 1.6, color: '#444', lineWidth: 0.6 };

  new Chart(canvas, {
    type: 'bar',
    data: {
      labels: p.features,
      datasets: [
        {
          type: 'line',
          data: p.ratio.map((v, i) => ({ x: v, y: i })),
          showLine: false,
          pointRadius: 1.3,
          pointStyle: p.ratio.map(v => (v < 0 ? 'triangle' : 'circle')),
          pointBackgroundColor: colors,
          pointBorderColor: colors,
          pointBorderWidth: 0
        },
        { type: 'bar', data: spans, backgroundColor: colors.map(c => rgba(c, 0.55)), barThickness: 0.5, grouped: false },
        { type: 'bar', data: spans, backgroundColor: colors.map(c => rgba(c, 0.38)), barThickness: 1.7, grouped: false }
      ]
    },
    options: {
      indexAxis: 'y',
      responsive: false,
      animation: false,
      events: [],
      layout: { padding: { left: 0, top: py0 - top, right: left + w - px1, bottom: 0 } },
      plugins: { legend: { display: false }, tooltip: { enabled: false }, decor: { panel: p } },
      scales: {
        x: {
          type: 'linear',
          min: p.range[0],
          max: p.range[1],
          afterFit: s => { s.height = top + h - py1; },
          afterBuildTicks: s => { s.ticks = p.ticks.map(v => ({ value: v })); },
          ticks: { autoSkip: false, maxRotation: 0, padding: 0.8, font: { size: 4.1 }, color: INK, callback: v => fmtTick(v, p.dec) },
          grid: tickGrid,
          border: { display: false }
        },
        y: {
          type: 'linear',
          reverse: true,
          min: -m,
          max: n - 1 + m,
          afterFit: s => { s.width = px0 - left; },
          afterBuildTicks: s => { s.ticks = p.features.map((_, i) => ({ value: i })); },
          ticks: { autoSkip: false, padding: 0.8, font: { size: p.tick }, color: INK, callback: v => p.features[v] },
          grid: tickGrid,
          border: { display: false }
        }
      }
    },
    plugins: [decor]
  });
});
</script>
</body>
</html>
